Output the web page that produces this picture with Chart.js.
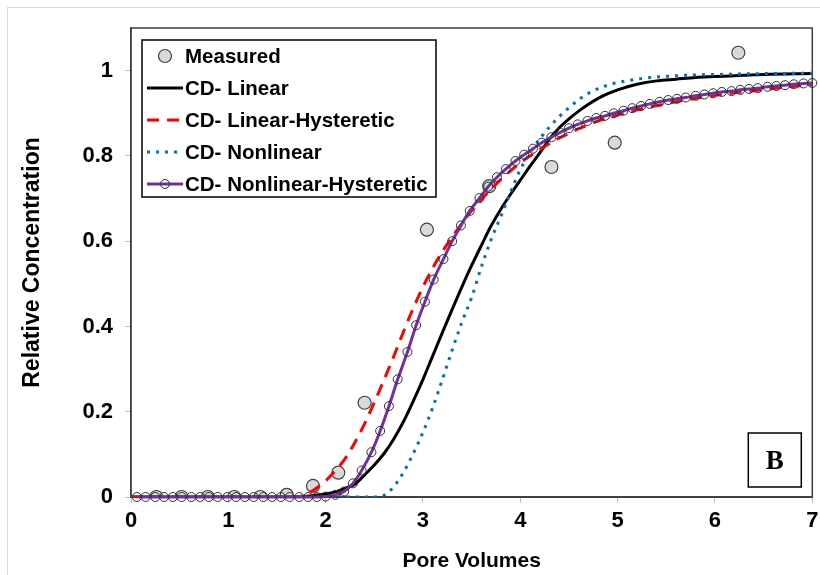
<!DOCTYPE html>
<html>
<head>
<meta charset="utf-8">
<script src="https://cdn.jsdelivr.net/npm/chart.js@4.4.1/dist/chart.umd.min.js"></script>
<style>
html,body{margin:0;padding:0;background:#fff;}
#wrap{width:820px;height:575px;position:relative;}
</style>
</head>
<body>
<div id="wrap"><canvas id="c" width="820" height="575"></canvas></div>
<script>
// ---------- DATA ----------
const seriesNames = ['Measured', 'CD- Linear', 'CD- Linear-Hysteretic', 'CD- Nonlinear', 'CD- Nonlinear-Hysteretic'];
const xTitle = 'Pore Volumes';
const yTitle = 'Relative Concentration';
const xTickLabels = ['0', '1', '2', '3', '4', '5', '6', '7'];
const yTickLabels = ['0', '0.2', '0.4', '0.6', '0.8', '1'];
const panelLabel = 'B';

const measuredX = [0.26, 0.52, 0.79, 1.06, 1.33, 1.60, 1.87, 2.13, 2.40, 3.04, 3.68, 4.32, 4.97, 6.24];
const measuredY = [0, 0, 0, 0, 0, 0.005, 0.026, 0.057, 0.221, 0.627, 0.729, 0.774, 0.831, 1.042];

const linearX = [0, 1.7, 1.8, 1.9, 2.0, 2.1, 2.2, 2.3, 2.4, 2.5, 2.6, 2.7, 2.8, 2.9, 3.0, 3.1, 3.2, 3.3, 3.4, 3.5, 3.6, 3.7, 3.8, 3.9, 4.0, 4.1, 4.2, 4.3, 4.4, 4.5, 4.6, 4.7, 4.8, 4.9, 5.0, 5.2, 5.4, 5.6, 5.8, 6.0, 6.2, 6.5, 7.0];
const linearY = [0, 0, 0.002, 0.004, 0.007, 0.012, 0.02, 0.03, 0.052, 0.075, 0.102, 0.136, 0.177, 0.225, 0.276, 0.331, 0.386, 0.44, 0.493, 0.543, 0.59, 0.636, 0.675, 0.71, 0.743, 0.776, 0.807, 0.84, 0.866, 0.887, 0.905, 0.921, 0.935, 0.946, 0.955, 0.968, 0.976, 0.98, 0.984, 0.986, 0.988, 0.991, 0.993];

const linHystX = [0, 1.7, 1.8, 1.9, 2.0, 2.1, 2.2, 2.3, 2.4, 2.5, 2.6, 2.7, 2.8, 2.9, 3.0, 3.1, 3.2, 3.3, 3.4, 3.5, 3.6, 3.7, 3.8, 3.9, 4.0, 4.1, 4.2, 4.3, 4.4, 4.5, 4.6, 4.7, 4.8, 4.9, 5.0, 5.2, 5.4, 5.6, 5.8, 6.0, 6.2, 6.4, 6.6, 6.8, 7.0];
const linHystY = [0, 0, 0.006, 0.02, 0.038, 0.062, 0.09, 0.128, 0.172, 0.222, 0.275, 0.33, 0.388, 0.443, 0.493, 0.537, 0.576, 0.61, 0.642, 0.672, 0.698, 0.722, 0.745, 0.765, 0.784, 0.8, 0.815, 0.829, 0.842, 0.853, 0.864, 0.873, 0.882, 0.889, 0.896, 0.908, 0.918, 0.927, 0.935, 0.942, 0.948, 0.953, 0.958, 0.963, 0.967];

const nonlinX = [0, 2.5, 2.6, 2.7, 2.8, 2.9, 3.0, 3.1, 3.2, 3.3, 3.4, 3.5, 3.6, 3.7, 3.8, 3.9, 4.0, 4.1, 4.2, 4.3, 4.4, 4.5, 4.6, 4.7, 4.8, 4.9, 5.0, 5.2, 5.4, 5.6, 5.8, 6.0, 6.5, 7.0];
const nonlinY = [0, 0, 0.004, 0.024, 0.058, 0.102, 0.152, 0.21, 0.276, 0.345, 0.41, 0.468, 0.54, 0.604, 0.658, 0.715, 0.768, 0.807, 0.84, 0.868, 0.892, 0.913, 0.932, 0.947, 0.958, 0.966, 0.972, 0.98, 0.985, 0.988, 0.99, 0.991, 0.993, 0.994];

const nlHystX = [0.06, 0.15, 0.25, 0.34, 0.43, 0.52, 0.62, 0.71, 0.80, 0.89, 0.99, 1.08, 1.17, 1.26, 1.36, 1.45, 1.54, 1.63, 1.73, 1.82, 1.91,
  2.00, 2.10, 2.19, 2.28, 2.37, 2.47, 2.56, 2.65, 2.74, 2.84, 2.93, 3.02, 3.11, 3.21, 3.30, 3.39, 3.48, 3.58, 3.67, 3.76, 3.85, 3.95, 4.04,
  4.13, 4.22, 4.32, 4.41, 4.50, 4.59, 4.69, 4.78, 4.87, 4.96, 5.06, 5.15, 5.24, 5.33, 5.43, 5.52, 5.61, 5.70, 5.80, 5.89, 5.98, 6.07, 6.17,
  6.26, 6.35, 6.44, 6.54, 6.63, 6.72, 6.81, 6.91, 7.00, 7.10];
const nlHystY = [0, 0, 0, 0, 0, 0, 0, 0, 0, 0, 0, 0, 0, 0, 0, 0, 0, 0, 0, 0, 0,
  0.001, 0.005, 0.013, 0.032, 0.062, 0.105, 0.155, 0.213, 0.276, 0.340, 0.403, 0.458, 0.510, 0.558, 0.600, 0.637, 0.671, 0.701, 0.728, 0.750, 0.769, 0.788, 0.803,
  0.817, 0.831, 0.844, 0.855, 0.865, 0.874, 0.882, 0.889, 0.894, 0.900, 0.906, 0.912, 0.917, 0.922, 0.927, 0.931, 0.934, 0.937, 0.941, 0.944, 0.947, 0.950, 0.952,
  0.955, 0.957, 0.959, 0.962, 0.964, 0.966, 0.968, 0.970, 0.971, 0.973];

// ---------- BUILD ----------
const pts = (xs, ys) => xs.map((x, i) => ({x: x, y: ys[i]}));
const FONT = "'Liberation Sans', Arial, sans-serif";

const datasets = [
  {label: seriesNames[0], data: pts(measuredX, measuredY), showLine: false, order: 5,
   pointRadius: 6.5, pointHoverRadius: 6.5, pointBackgroundColor: '#d9d9d9', pointBorderColor: '#404040', pointBorderWidth: 1.2},
  {label: seriesNames[1], data: pts(linearX, linearY), order: 4, borderColor: '#000000', borderWidth: 3,
   pointRadius: 0, cubicInterpolationMode: 'monotone'},
  {label: seriesNames[2], data: pts(linHystX, linHystY), order: 3, borderColor: '#ff0000', borderWidth: 3,
   borderDash: [12, 8], pointRadius: 0, cubicInterpolationMode: 'monotone'},
  {label: seriesNames[3], data: pts(nonlinX, nonlinY), order: 2, borderColor: '#0070c0', borderWidth: 3,
   borderDash: [3, 6], pointRadius: 0, cubicInterpolationMode: 'monotone'},
  {label: seriesNames[4], data: pts(nlHystX, nlHystY), order: 1, borderColor: '#7030a0', borderWidth: 3,
   cubicInterpolationMode: 'monotone', clip: false,
   pointRadius: nlHystX.map(x => x > 7.05 ? 0 : 4.5), pointBackgroundColor: 'rgba(255,255,255,0)',
   pointBorderColor: '#303030', pointBorderWidth: 1}
];

const framePlugin = {
  id: 'frame',
  beforeDraw(chart) {
    const ctx = chart.ctx;
    ctx.save();
    ctx.fillStyle = '#fff';
    ctx.fillRect(0, 0, chart.width, chart.height);
    ctx.strokeStyle = '#d9d9d9';
    ctx.lineWidth = 1;
    ctx.strokeRect(7.5, 7.5, chart.width + 20, chart.height + 20);
    ctx.restore();
  },
  beforeDatasetsDraw(chart) {
    const {ctx, chartArea: a} = chart;
    ctx.save();
    ctx.strokeStyle = '#404040';
    ctx.lineWidth = 1.5;
    ctx.strokeRect(a.left, a.top, a.right - a.left, a.bottom - a.top);
    ctx.restore();
  }
};

const legendPlugin = {
  id: 'boxLegend',
  afterDatasetsDraw(chart) {
    const {ctx, chartArea: a} = chart;
    const x0 = a.left + 11, y0 = a.top + 12, w = 294, h = 157;
    ctx.save();
    ctx.fillStyle = '#fff';
    ctx.fillRect(x0, y0, w, h);
    ctx.strokeStyle = '#000';
    ctx.lineWidth = 1.5;
    ctx.strokeRect(x0, y0, w, h);
    chart.data.datasets.forEach((ds, i) => {
      const cy = y0 + 16 + i * 32;
      const sx0 = x0 + 5, sx1 = x0 + 41, cx = (sx0 + sx1) / 2;
      if (ds.showLine !== false) {
        ctx.beginPath();
        ctx.setLineDash(ds.borderDash || []);
        ctx.strokeStyle = ds.borderColor;
        ctx.lineWidth = ds.borderWidth;
        ctx.moveTo(sx0, cy);
        ctx.lineTo(sx1, cy);
        ctx.stroke();
        ctx.setLineDash([]);
      }
      const r = Array.isArray(ds.pointRadius) ? ds.pointRadius[0] : ds.pointRadius;
      if (r > 0) {
        ctx.beginPath();
        ctx.arc(cx, cy, r, 0, Math.PI * 2);
        ctx.fillStyle = ds.pointBackgroundColor;
        ctx.fill();
        ctx.lineWidth = ds.pointBorderWidth;
        ctx.strokeStyle = ds.pointBorderColor;
        ctx.stroke();
      }
      ctx.fillStyle = '#000';
      ctx.font = 'bold 20.5px ' + FONT;
      ctx.textBaseline = 'middle';
      ctx.textAlign = 'left';
      ctx.fillText(ds.label, x0 + 43, cy + 1);
    });
    ctx.restore();
  },
  afterDraw(chart) {
    const {ctx, chartArea: a} = chart;
    const bx1 = a.right - 11, by1 = a.bottom - 10, bw = 53, bh = 54;
    ctx.save();
    ctx.strokeStyle = '#000';
    ctx.lineWidth = 1.5;
    ctx.strokeRect(bx1 - bw, by1 - bh, bw, bh);
    ctx.fillStyle = '#000';
    ctx.font = "bold 27px 'Liberation Serif', 'Times New Roman', serif";
    ctx.textAlign = 'center';
    ctx.textBaseline = 'middle';
    ctx.fillText(panelLabel, bx1 - bw / 2, by1 - bh / 2 + 2);
    ctx.restore();
  }
};

Chart.defaults.font.family = FONT;
Chart.defaults.font.weight = 'bold';
Chart.defaults.font.size = 22;
Chart.defaults.color = '#000';

new Chart(document.getElementById('c'), {
  type: 'line',
  data: {datasets: datasets},
  options: {
    responsive: false,
    animation: false,
    devicePixelRatio: 1,
    layout: {padding: {left: 0, top: 28, right: 7, bottom: 0}},
    plugins: {legend: {display: false}, tooltip: {enabled: false}},
    scales: {
      x: {
        type: 'linear', min: 0, max: 7,
        afterFit: s => { s.height = 78; s.paddingRight = 0; s.paddingLeft = 0; },
        ticks: {stepSize: 1, padding: 5, font: {size: 22, weight: 'bold'},
                callback: v => xTickLabels[Math.round(v)]},
        grid: {drawOnChartArea: false, drawTicks: true, tickLength: 6, color: '#bfbfbf'},
        border: {color: '#404040', width: 2},
        title: {display: true, text: xTitle, font: {size: 21, weight: 'bold'}, padding: {top: 0, bottom: 1}}
      },
      y: {
        type: 'linear', min: 0, max: 1.1,
        afterFit: s => { s.width = 131; s.paddingTop = 0; s.paddingBottom = 0; },
        ticks: {stepSize: 0.2, includeBounds: false, padding: 12, font: {size: 22, weight: 'bold'},
                callback: v => yTickLabels[Math.round(v * 5)]},
        grid: {drawOnChartArea: false, drawTicks: true, tickLength: 6, color: '#bfbfbf'},
        border: {color: '#404040', width: 1.5},
        title: {display: true, text: yTitle, font: {size: 23, weight: 'bold'}, padding: {top: 19, bottom: 0}}
      }
    }
  },
  plugins: [framePlugin, legendPlugin]
});
</script>
</body>
</html>
